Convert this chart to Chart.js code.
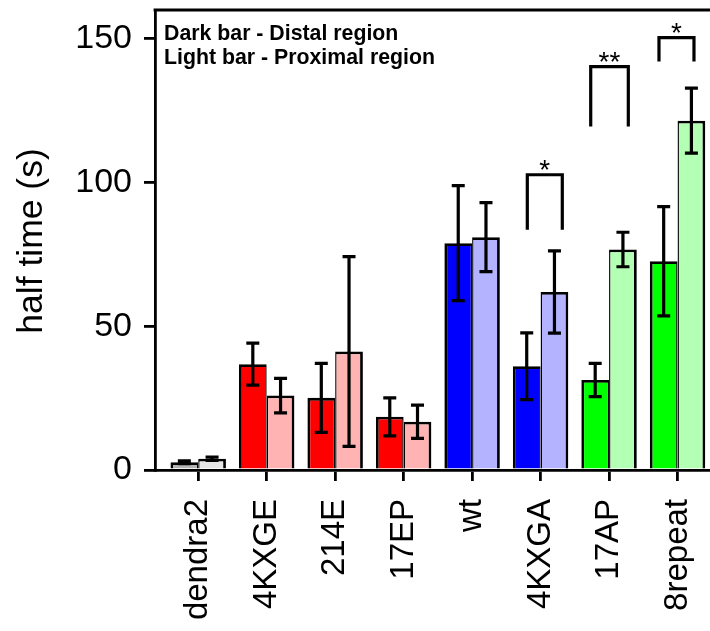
<!DOCTYPE html>
<html>
<head>
<meta charset="utf-8">
<script src="https://cdn.jsdelivr.net/npm/chart.js@4/dist/chart.umd.min.js"></script>
<style>
  html, body { margin: 0; padding: 0; background: #fff; }
  #c { display: block; }
</style>
</head>
<body>
<canvas id="c" width="710" height="631"></canvas>
<script>
// ---- data ----
const categories = ['dendra2', '4KXGE', '214E', '17EP', 'wt', '4KXGA', '17AP', '8repeat'];
const distal      = [2.7, 36.8, 25.1, 18.5, 78.9, 36.1, 31.3, 72.6];
const distalErr   = [0.5, 7.3, 12.0, 6.6, 20.0, 11.6, 5.8, 19.0];
const proximal    = [3.9, 25.9, 41.2, 16.8, 81.0, 61.9, 76.7, 121.5];
const proximalErr = [0.6, 6.0, 33.0, 5.8, 12.0, 14.3, 6.0, 11.3];
const yTicks = [0, 50, 100, 150];
const yTitle = 'half time (s)';
const notes = ['Dark bar - Distal region', 'Light bar - Proximal region'];
// significance brackets (x in category units, y in data units)
const sigLabels = ['*', '**', '*'];
const sigX0     = [4.806, 5.732, 6.729];
const sigX1     = [5.317, 6.281, 7.240];
const sigTop    = [102.7, 140.3, 150.4];
const sigBottom = [83.6, 119.5, 142.1];

// ---- styles ----
const darkColors  = ['#b3b3b3', '#ff0000', '#ff0000', '#ff0000', '#0000ff', '#0000ff', '#00ff00', '#00ff00'];
const lightColors = ['#e6e6e6', '#ffb3b3', '#ffb3b3', '#ffb3b3', '#b3b3ff', '#b3b3ff', '#b3ffb3', '#b3ffb3'];
const FONT = "'Liberation Sans', Arial, Helvetica, sans-serif";
const LW = 2.8;

const errors = [distalErr, proximalErr];

const errorBarPlugin = {
  id: 'errorBars',
  afterDatasetsDraw(chart) {
    const ctx = chart.ctx;
    const y = chart.scales.y;
    ctx.save();
    ctx.strokeStyle = '#000';
    ctx.lineWidth = 3.2;
    ctx.lineCap = 'butt';
    chart.data.datasets.forEach((ds, di) => {
      const meta = chart.getDatasetMeta(di);
      meta.data.forEach((bar, i) => {
        const v = ds.data[i].y;
        const e = errors[di][i];
        const x = bar.x;
        const yt = y.getPixelForValue(v + e);
        const yb = y.getPixelForValue(v - e);
        ctx.beginPath();
        ctx.moveTo(x, yt); ctx.lineTo(x, yb);
        ctx.moveTo(x - 6.5, yt); ctx.lineTo(x + 6.5, yt);
        ctx.moveTo(x - 6.5, yb); ctx.lineTo(x + 6.5, yb);
        ctx.stroke();
      });
    });
    ctx.restore();
  }
};

const decorPlugin = {
  id: 'decor',
  afterDraw(chart) {
    const ctx = chart.ctx;
    const {left, right, top, bottom} = chart.chartArea;
    const xs = chart.scales.x, ys = chart.scales.y;
    ctx.save();
    // top frame line
    ctx.strokeStyle = '#000';
    ctx.lineWidth = LW;
    ctx.beginPath();
    ctx.moveTo(left - LW / 2, top);
    ctx.lineTo(right, top);
    ctx.stroke();
    // y axis title
    ctx.fillStyle = '#000';
    ctx.save();
    ctx.translate(32, 241);
    ctx.rotate(-Math.PI / 2);
    ctx.font = '35.5px ' + FONT;
    ctx.textAlign = 'center';
    ctx.textBaseline = 'middle';
    ctx.fillText(yTitle, 0, 0);
    ctx.restore();
    // notes
    ctx.font = 'bold 21.3px ' + FONT;
    ctx.textAlign = 'left';
    ctx.textBaseline = 'middle';
    notes.forEach((t, i) => ctx.fillText(t, left + 9, 34 + i * 24.5));
    // significance brackets
    ctx.lineWidth = 3.2;
    ctx.font = '28px ' + FONT;
    ctx.textAlign = 'center';
    ctx.textBaseline = 'alphabetic';
    sigLabels.forEach((lab, i) => {
      const x0 = xs.getPixelForValue(sigX0[i]);
      const x1 = xs.getPixelForValue(sigX1[i]);
      const yt = ys.getPixelForValue(sigTop[i]);
      const yb = ys.getPixelForValue(sigBottom[i]);
      ctx.beginPath();
      ctx.moveTo(x0, yb); ctx.lineTo(x0, yt); ctx.lineTo(x1, yt); ctx.lineTo(x1, yb);
      ctx.stroke();
      ctx.fillText(lab, (x0 + x1) / 2, yt + 4);
    });
    ctx.restore();
  }
};

new Chart(document.getElementById('c'), {
  type: 'bar',
  data: {
    datasets: [
      {
        label: 'Distal',
        data: categories.map((c, i) => ({x: i, y: distal[i]})),
        backgroundColor: darkColors,
        borderColor: '#000',
        borderWidth: {top: LW, left: LW, right: LW / 2, bottom: 0},
        categoryPercentage: 0.81,
        barPercentage: 1.0
      },
      {
        label: 'Proximal',
        data: categories.map((c, i) => ({x: i, y: proximal[i]})),
        backgroundColor: lightColors,
        borderColor: '#000',
        borderWidth: {top: LW, left: LW / 2, right: LW, bottom: 0},
        categoryPercentage: 0.81,
        barPercentage: 1.0
      }
    ]
  },
  options: {
    responsive: false,
    animation: false,
    devicePixelRatio: 1,
    layout: { padding: { top: 10, right: 0, left: 0, bottom: 0 } },
    plugins: { legend: { display: false }, tooltip: { enabled: false } },
    scales: {
      x: {
        type: 'linear',
        min: -0.631,
        max: 7.474,
        offset: false,
        afterBuildTicks(scale) { scale.ticks = categories.map((c, i) => ({value: i})); },
        afterFit(scale) { scale.height = 161; scale.paddingLeft = 0; scale.paddingRight = 0; },
        grid: { display: true, drawOnChartArea: false, drawTicks: true, tickLength: 11, color: '#000', lineWidth: LW, offset: false },
        border: { display: true, color: '#000', width: LW },
        ticks: {
          autoSkip: false,
          minRotation: 90,
          maxRotation: 90,
          padding: 18,
          color: '#000',
          font: { family: FONT, size: 33 },
          callback: (v) => categories[Math.round(v)]
        }
      },
      y: {
        min: 0,
        max: 160,
        afterBuildTicks(scale) { scale.ticks = yTicks.map(v => ({value: v})); },
        afterFit(scale) { scale.width = 155; scale.paddingTop = 0; scale.paddingBottom = 0; },
        grid: { display: true, drawOnChartArea: false, drawTicks: true, tickLength: 11, color: '#000', lineWidth: LW },
        border: { display: true, color: '#000', width: LW },
        ticks: {
          padding: 12,
          color: '#000',
          font: { family: FONT, size: 34 }
        }
      }
    }
  },
  plugins: [errorBarPlugin, decorPlugin]
});
</script>
</body>
</html>
